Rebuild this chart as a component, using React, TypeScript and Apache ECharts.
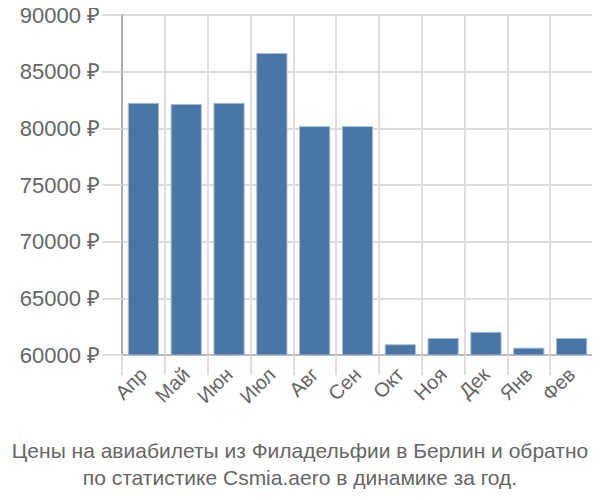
import React, { useEffect, useRef } from "react";
import * as echarts from "echarts";

const months = ["Апр", "Май", "Июн", "Июл", "Авг", "Сен", "Окт", "Ноя", "Дек", "Янв", "Фев"];
const prices = [82250, 82150, 82250, 86650, 80200, 80200, 60950, 61500, 62050, 60650, 61500];
const titleLines = [
  "Цены на авиабилеты из Филадельфии в Берлин и обратно",
  "по статистике Csmia.aero в динамике за год.",
];

export default function App() {
  const ref = useRef<HTMLDivElement>(null);
  useEffect(() => {
    const chart = echarts.init(ref.current!, null, { renderer: "svg" });
    chart.setOption({
      animation: false,
      textStyle: { fontFamily: "Liberation Sans" },
      title: {
        text: titleLines.join("\n"),
        left: "center",
        top: 432,
        textStyle: { color: "#666", fontSize: 21, fontWeight: "normal", lineHeight: 27, fontFamily: "Liberation Sans" },
      },
      grid: { left: 122, right: 7, top: 15, bottom: 145, containLabel: false },
      xAxis: {
        type: "category",
        data: months,
        axisLine: { lineStyle: { color: "#bbb", width: 2 } },
        axisTick: { show: true, length: 20, interval: 0, lineStyle: { color: "#ddd", width: 2 } },
        splitLine: { show: true, interval: 0, lineStyle: { color: "#ddd", width: 2 } },
        axisLabel: { rotate: 45, color: "#666", fontSize: 20, interval: 0, margin: 16 },
      },
      yAxis: {
        type: "value",
        min: 60000,
        max: 90000,
        interval: 5000,
        axisLine: { show: true, lineStyle: { color: "#aaa", width: 2 } },
        axisTick: { show: true, length: 20, lineStyle: { color: "#ddd", width: 2 } },
        splitLine: { show: true, lineStyle: { color: "#ddd", width: 2 } },
        axisLabel: { color: "#666", fontSize: 22, margin: 22, formatter: (v: number) => `${v} ₽` },
      },
      series: [
        {
          type: "bar",
          data: prices,
          barCategoryGap: "27%",
          itemStyle: { color: "#4a76a6", borderColor: "#a9bfd8", borderWidth: 1 },
        },
      ],
    });
    return () => chart.dispose();
  }, []);
  return <div ref={ref} style={{ width: 600, height: 500, margin: -8 }} />;
}
